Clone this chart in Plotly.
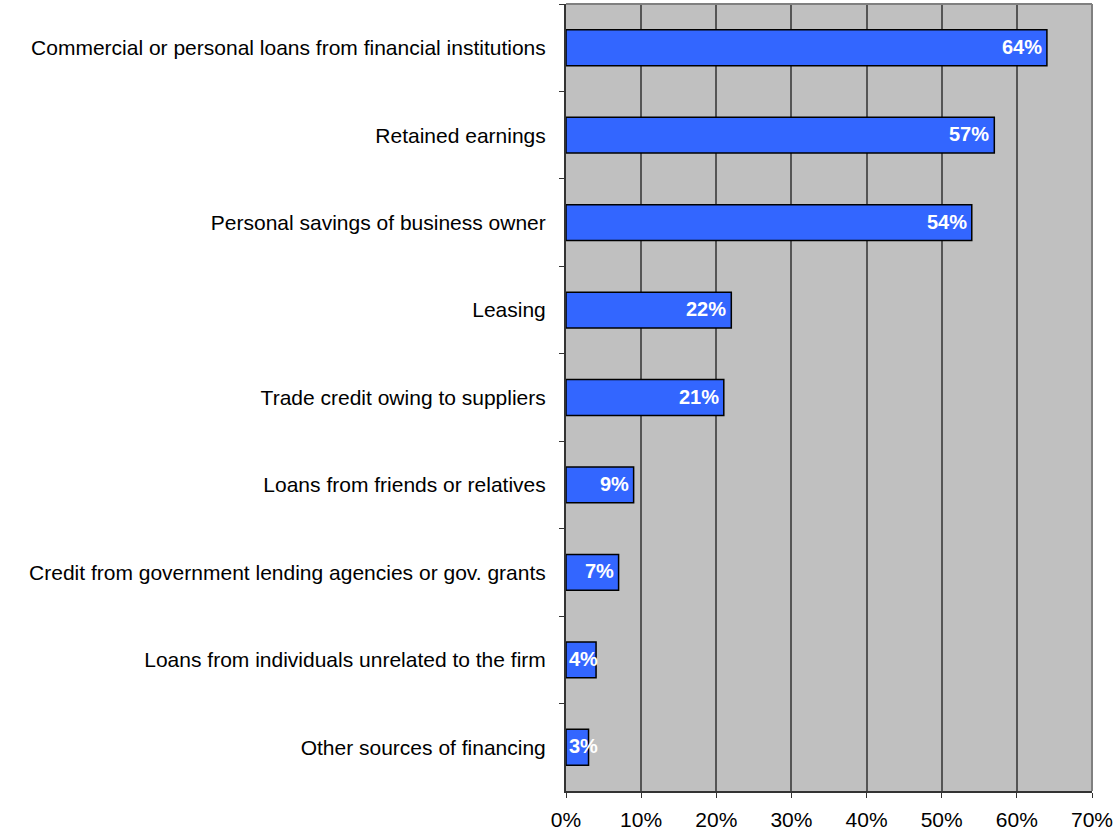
import plotly.graph_objects as go

# Sources of financing, listed top to bottom
categories = [
    "Commercial or personal loans from financial institutions",
    "Retained earnings",
    "Personal savings of business owner",
    "Leasing",
    "Trade credit owing to suppliers",
    "Loans from friends or relatives",
    "Credit from government lending agencies or gov. grants",
    "Loans from individuals unrelated to the firm",
    "Other sources of financing",
]
shares = [64, 57, 54, 22, 21, 9, 7, 4, 3]  # percent of firms
x_ticks = [0, 10, 20, 30, 40, 50, 60, 70]
x_tick_labels = [f"{v}%" for v in x_ticks]

FONT = "Liberation Sans, Arial, sans-serif"

fig = go.Figure(
    go.Bar(
        x=shares,
        y=categories,
        orientation="h",
        marker=dict(color="#3366FF", line=dict(color="#000000", width=1.5)),
        width=0.41,
        hoverinfo="x+y",
    )
)

# White value labels at the bar ends; short bars get them from the bar start
for cat, val in zip(categories, shares):
    fits = val >= 5
    fig.add_annotation(
        x=val if fits else 0,
        y=cat,
        xref="x",
        yref="y",
        text=f"<b>{val}%</b>",
        showarrow=False,
        xanchor="right" if fits else "left",
        xshift=-3 if fits else 1,
        yshift=1,
        font=dict(family=FONT, size=20, color="#FFFFFF"),
    )

fig.update_layout(
    width=1117,
    height=834,
    margin=dict(l=566, r=25, t=4, b=43),
    paper_bgcolor="#FFFFFF",
    plot_bgcolor="#C0C0C0",
    showlegend=False,
    font=dict(family=FONT, size=21, color="#000000"),
    bargap=0.59,
)

fig.update_xaxes(
    range=[0, 70],
    tickvals=x_ticks,
    ticktext=x_tick_labels,
    showgrid=True,
    gridcolor="#555555",
    gridwidth=2,
    zeroline=False,
    showline=True,
    linecolor="#333333",
    linewidth=2,
    mirror=False,
    ticks="outside",
    ticklen=5,
    tickcolor="#333333",
    tickwidth=1,
    ticklabelstandoff=4,
    tickfont=dict(family=FONT, size=21),
)

fig.update_yaxes(
    categoryorder="array",
    categoryarray=categories,
    autorange="reversed",
    showgrid=False,
    showline=True,
    linecolor="#333333",
    linewidth=2,
    ticks="outside",
    tickson="boundaries",
    ticklen=5,
    tickcolor="#333333",
    ticklabelstandoff=14,
    tickfont=dict(family=FONT, size=21),
)

# Thin frame on the top and right edges of the plot area
fig.add_shape(type="line", xref="paper", yref="paper", x0=0, x1=1, y0=1, y1=1,
              line=dict(color="#808080", width=2))
fig.add_shape(type="line", xref="paper", yref="paper", x0=1, x1=1, y0=0, y1=1,
              line=dict(color="#808080", width=2))

fig.write_html("out.html")
